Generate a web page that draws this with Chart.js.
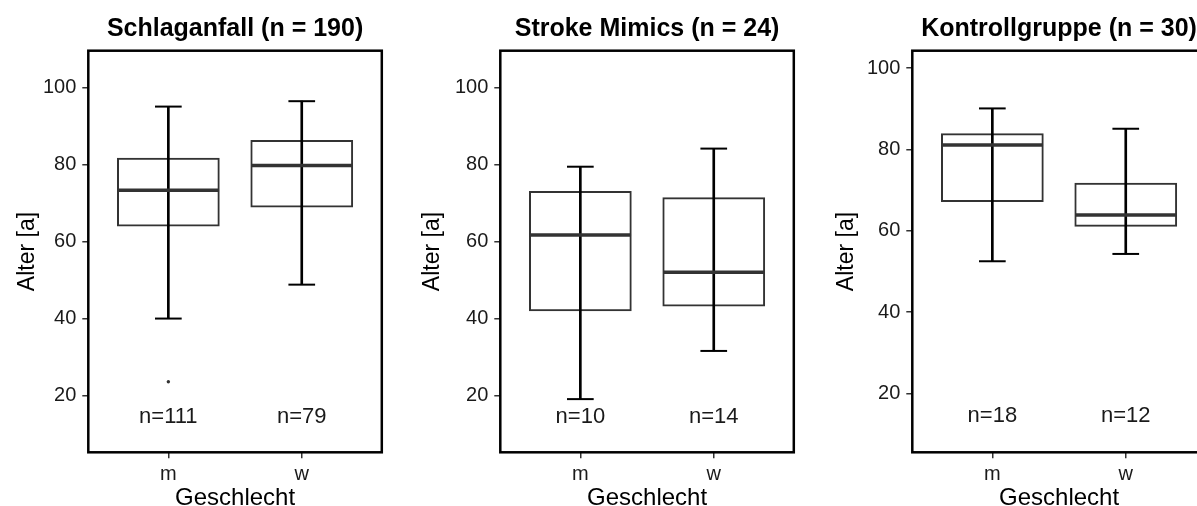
<!DOCTYPE html>
<html lang="de">
<head>
<meta charset="utf-8">
<title>Alter nach Geschlecht</title>
<script src="https://cdn.jsdelivr.net/npm/chart.js@4/dist/chart.umd.min.js"></script>
<style>
  html, body { margin: 0; padding: 0; background: #fff; }
  body { position: relative; width: 1197px; height: 506px; overflow: hidden; }
  canvas { position: absolute; top: 0; }
</style>
</head>
<body>
<canvas id="p1" width="470" height="520"></canvas>
<canvas id="p2" width="470" height="520"></canvas>
<canvas id="p3" width="470" height="520"></canvas>
<script>
// Categories and tick labels shared by all three panels
const categories = ['m', 'w'];
const yTicks = [20, 40, 60, 80, 100];
const nLabelY = 15;

// Schlaganfall
const strokeLow = [40.0, 48.8];
const strokeQ1 = [63.9, 68.8];
const strokeMedian = [73.3, 79.7];
const strokeQ3 = [81.7, 86.3];
const strokeHigh = [95.0, 96.4];
const strokeOutliers = [[23.6], []];
const strokeCounts = [111, 79];

// Stroke Mimics
const mimicLow = [19.1, 31.6];
const mimicQ1 = [41.9, 43.1];
const mimicMedian = [61.7, 52.0];
const mimicQ3 = [73.1, 71.5];
const mimicHigh = [79.4, 84.1];
const mimicOutliers = [[], []];
const mimicCounts = [10, 14];

// Kontrollgruppe
const controlLow = [52.5, 54.3];
const controlQ1 = [67.1, 61.0];
const controlMedian = [81.1, 63.9];
const controlQ3 = [84.0, 71.8];
const controlHigh = [90.1, 85.1];
const controlOutliers = [[], []];
const controlCounts = [18, 12];

const FONT = "'Liberation Sans', Arial, Helvetica, sans-serif";
Chart.defaults.font.family = FONT;
Chart.defaults.color = '#1a1a1a';

const AXIS_W = 88.3;        // room left of the plot frame
const CANVAS_W = 470;
const CANVAS_H = 520;
const PLOT_W = 293.5;
const PLOT_TOP = 50.7;
const PLOT_BOTTOM = 452.3;
const TITLE_Y = 29;
const BOX_HALF = 0.38;      // half box width in category units
const CAP_HALF = 0.1;       // half whisker-cap width in category units

// Caps, medians, sample sizes, panel title and frame
const boxDetails = {
  id: 'boxDetails',
  afterDatasetsDraw(chart, args, opts) {
    const { ctx, scales: { x, y } } = chart;
    const s = opts.stats;
    ctx.save();
    categories.forEach((c, i) => {
      const v = i + 1;
      // whisker caps
      ctx.strokeStyle = '#000';
      ctx.lineWidth = 2;
      [s.low[i], s.high[i]].forEach(val => {
        const py = y.getPixelForValue(val);
        ctx.beginPath();
        ctx.moveTo(x.getPixelForValue(v - CAP_HALF), py);
        ctx.lineTo(x.getPixelForValue(v + CAP_HALF), py);
        ctx.stroke();
      });
      // median
      const my = y.getPixelForValue(s.median[i]);
      ctx.strokeStyle = '#333';
      ctx.lineWidth = 3.5;
      ctx.beginPath();
      ctx.moveTo(x.getPixelForValue(v - BOX_HALF), my);
      ctx.lineTo(x.getPixelForValue(v + BOX_HALF), my);
      ctx.stroke();
      // sample size label
      ctx.fillStyle = '#1a1a1a';
      ctx.font = '22px ' + FONT;
      ctx.textAlign = 'center';
      ctx.textBaseline = 'alphabetic';
      ctx.fillText('n=' + s.counts[i], x.getPixelForValue(v), y.getPixelForValue(nLabelY) + 7.9);
    });
    ctx.restore();
  },
  afterDraw(chart, args, opts) {
    const { ctx, chartArea: a } = chart;
    ctx.save();
    ctx.strokeStyle = '#000';
    ctx.lineWidth = 2.5;
    ctx.strokeRect(a.left, a.top, a.right - a.left, a.bottom - a.top);
    // panel title centred over the plot frame
    ctx.fillStyle = '#000';
    ctx.font = 'bold 25px ' + FONT;
    ctx.textAlign = 'center';
    ctx.textBaseline = 'middle';
    ctx.fillText(opts.title, (a.left + a.right) / 2, TITLE_Y);
    ctx.restore();
  }
};

function makePanel(id, left, title, stats, yMin, yMax, yTitlePad) {
  const canvas = document.getElementById(id);
  canvas.style.left = left + 'px';
  const outlierPoints = [];
  stats.outliers.forEach((vals, i) => vals.forEach(val => outlierPoints.push({ x: i + 1, y: val })));

  return new Chart(canvas, {
    type: 'bar',
    data: {
      datasets: [
        {
          type: 'scatter',
          data: outlierPoints,
          pointRadius: 1.7,
          pointBackgroundColor: '#333',
          pointBorderWidth: 0,
          order: 0
        },
        {
          label: 'Whisker',
          data: categories.map((c, i) => ({ x: i + 1, y: [stats.low[i], stats.high[i]] })),
          backgroundColor: '#000',
          borderWidth: 0,
          barThickness: 2,
          grouped: false,
          order: 1
        },
        {
          label: 'Box',
          data: categories.map((c, i) => ({ x: i + 1, y: [stats.q1[i], stats.q3[i]] })),
          backgroundColor: 'rgba(255,255,255,0)',
          borderColor: '#333',
          borderWidth: 2,
          borderSkipped: false,
          barPercentage: 0.77,
          categoryPercentage: 1.0,
          grouped: false,
          order: 2
        }
      ]
    },
    options: {
      responsive: false,
      animation: false,
      devicePixelRatio: 1,
      layout: { padding: { left: 0, right: CANVAS_W - AXIS_W - PLOT_W, top: PLOT_TOP, bottom: 0 } },
      plugins: {
        legend: { display: false },
        tooltip: { enabled: false },
        title: { display: false },
        boxDetails: { stats, title }
      },
      scales: {
        x: {
          type: 'linear',
          min: 0.4,
          max: 2.6,
          offset: false,
          afterBuildTicks: s => { s.ticks = categories.map((c, i) => ({ value: i + 1 })); },
          afterFit: s => { s.height = CANVAS_H - PLOT_BOTTOM; },
          border: { display: false },
          grid: { drawOnChartArea: false, drawTicks: true, tickLength: 6, color: '#333', lineWidth: 1.5, offset: false },
          ticks: {
            callback: v => categories[v - 1] ?? '',
            autoSkip: false,
            maxRotation: 0,
            padding: 4,
            color: '#1a1a1a',
            font: { size: 20 }
          },
          title: {
            display: true,
            text: 'Geschlecht',
            color: '#000',
            font: { size: 24 },
            padding: { top: 0, bottom: 7.6 }
          }
        },
        y: {
          type: 'linear',
          min: yMin,
          max: yMax,
          afterBuildTicks: s => { s.ticks = yTicks.map(v => ({ value: v })); },
          afterFit: s => { s.width = AXIS_W; },
          border: { display: false },
          grid: { drawOnChartArea: false, drawTicks: true, tickLength: 6, color: '#333', lineWidth: 1.5 },
          ticks: { padding: 6, color: '#1a1a1a', font: { size: 20 } },
          title: {
            display: true,
            text: 'Alter [a]',
            color: '#000',
            font: { size: 23 },
            padding: { top: yTitlePad, bottom: 0 }
          }
        }
      }
    },
    plugins: [boxDetails]
  });
}

makePanel('p1', 0, 'Schlaganfall (n = 190)', {
  low: strokeLow, q1: strokeQ1, median: strokeMedian, q3: strokeQ3, high: strokeHigh,
  outliers: strokeOutliers, counts: strokeCounts
}, 5.3, 109.5, 14.2);

makePanel('p2', 412.2, 'Stroke Mimics (n = 24)', {
  low: mimicLow, q1: mimicQ1, median: mimicMedian, q3: mimicQ3, high: mimicHigh,
  outliers: mimicOutliers, counts: mimicCounts
}, 5.3, 109.5, 7.0);

makePanel('p3', 823.7, 'Kontrollgruppe (n = 30)', {
  low: controlLow, q1: controlQ1, median: controlMedian, q3: controlQ3, high: controlHigh,
  outliers: controlOutliers, counts: controlCounts
}, 5.5, 104.3, 8.5);
</script>
</body>
</html>
